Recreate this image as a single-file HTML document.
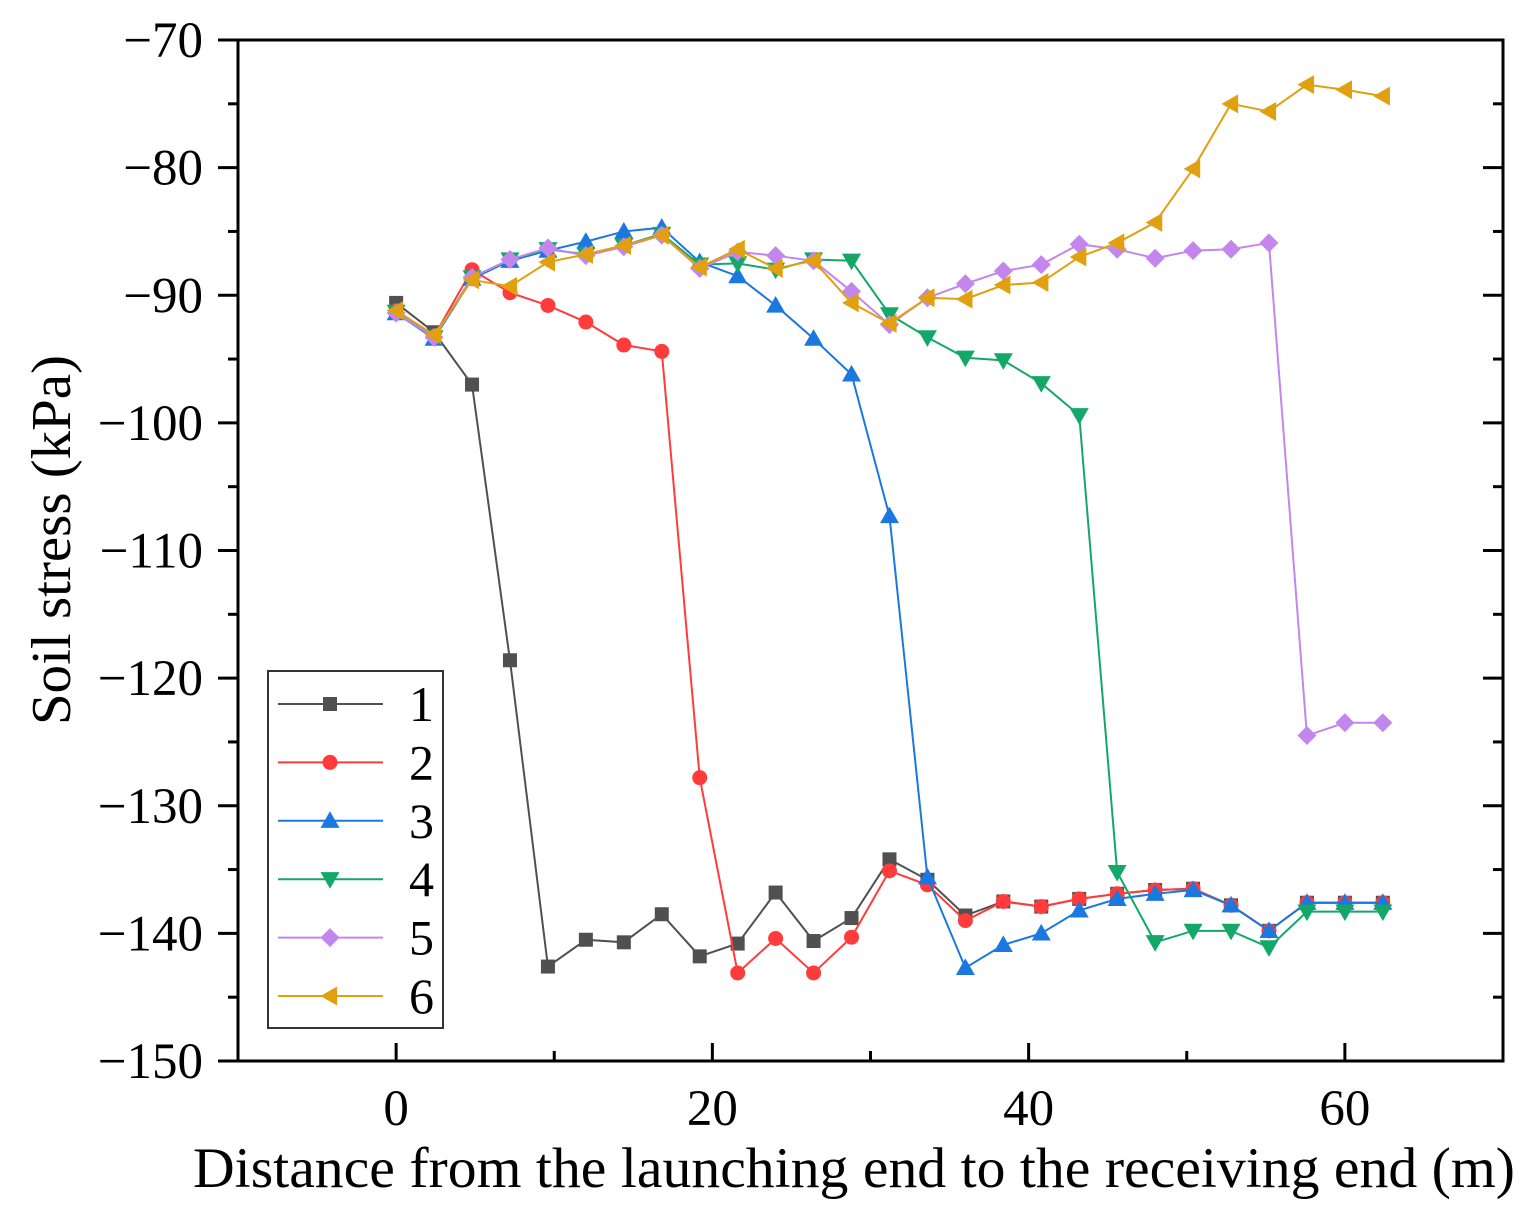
<!DOCTYPE html>
<html><head><meta charset="utf-8"><style>
html,body{margin:0;padding:0;background:#fff;}
svg{display:block;font-family:"Liberation Serif",serif;}
</style></head><body>
<svg id="chart" width="1533" height="1222" viewBox="0 0 1533 1222"></svg>
<script>
const xValues=[0,2.4,4.8,7.2,9.6,12,14.4,16.8,19.2,21.6,24,26.4,28.8,31.2,33.6,36,38.4,40.8,43.2,45.6,48,50.4,52.8,55.2,57.6,60,62.4];
const s1=[-90.6,-92.9,-97,-118.6,-142.6,-140.5,-140.7,-138.5,-141.8,-140.8,-136.8,-140.6,-138.8,-134.2,-135.8,-138.6,-137.5,-137.9,-137.3,-136.9,-136.6,-136.5,-137.8,-139.8,-137.6,-137.6,-137.6];
const s2=[-91.2,-93.2,-88,-89.8,-90.8,-92.1,-93.9,-94.4,-127.8,-143.1,-140.4,-143.1,-140.3,-135.1,-136.2,-139,-137.5,-137.9,-137.3,-136.9,-136.6,-136.5,-137.8,-139.8,-137.6,-137.6,-137.6];
const s3=[-91.4,-93.4,-88.7,-87.3,-86.5,-85.8,-85,-84.7,-87.4,-88.5,-90.8,-93.4,-96.2,-107.3,-135.6,-142.7,-140.9,-140,-138.2,-137.3,-136.9,-136.6,-137.8,-139.8,-137.6,-137.6,-137.6];
const s4=[-91.3,-93.3,-88.6,-87.2,-86.4,-86.8,-86.1,-85.2,-87.6,-87.5,-88,-87.2,-87.3,-91.5,-93.3,-94.9,-95.1,-96.9,-99.4,-135.2,-140.7,-139.8,-139.8,-141.1,-138.3,-138.3,-138.3];
const s5=[-91.4,-93.3,-88.6,-87.2,-86.3,-86.9,-86.2,-85.3,-87.9,-86.6,-86.9,-87.3,-89.7,-92.3,-90.2,-89.1,-88.1,-87.6,-86,-86.4,-87.1,-86.5,-86.4,-85.9,-124.5,-123.5,-123.5];
const s6=[-91.2,-93.1,-88.8,-89.3,-87.4,-86.8,-86.1,-85.3,-87.8,-86.4,-87.9,-87.3,-90.6,-92.2,-90.2,-90.3,-89.2,-89,-87,-85.9,-84.3,-80.1,-75,-75.6,-73.5,-73.9,-74.4];
const seriesNames=["1","2","3","4","5","6"];
const xTicks=[0,20,40,60];
const yTicks=[-70,-80,-90,-100,-110,-120,-130,-140,-150];

const NS="http://www.w3.org/2000/svg";
const svg=document.getElementById('chart');
const L=238,R=1503,T=40,B=1061;
const xs=v=>L+(v+10)/80*(R-L);
const ys=v=>T+(-70-v)/80*(B-T);
function mk(tag,attrs,parent){const e=document.createElementNS(NS,tag);for(const k in attrs)e.setAttribute(k,attrs[k]);(parent||svg).appendChild(e);return e;}

const axes=mk('g',{});


const frame=mk('rect',{x:L,y:T,width:R-L,height:B-T,fill:'none',stroke:'#000','stroke-width':3},axes);


for(let v=-150;v<=-70;v+=5){
  const major=v%10===0;const len=major?20:10;
  mk('line',{x1:L,x2:L-len,y1:ys(v),y2:ys(v),stroke:'#000','stroke-width':3},axes);
  mk('line',{x1:R,x2:R-len,y1:ys(v),y2:ys(v),stroke:'#000','stroke-width':3},axes);
}
yTicks.forEach(v=>{
  const t=mk('text',{x:203,y:ys(v)+17,'text-anchor':'end','font-size':51},axes);
  t.textContent='\u2212'+Math.abs(v);
  
  
});
for(let v=-10;v<=70;v+=10){
  const major=v%20===0;const len=major?18:10;
  mk('line',{x1:xs(v),x2:xs(v),y1:B,y2:B-len,stroke:'#000','stroke-width':3},axes);
}
xTicks.forEach(v=>{
  const t=mk('text',{x:xs(v),y:1125,'text-anchor':'middle','font-size':51},axes);
  t.textContent=v;
  
  
});
const xt=mk('text',{x:854,y:1187,'text-anchor':'middle','font-size':57,textLength:1322,lengthAdjust:'spacingAndGlyphs'});
xt.textContent='Distance from the launching end to the receiving end (m)';


const yt=mk('text',{x:0,y:0,'text-anchor':'middle','font-size':56,textLength:370,lengthAdjust:'spacingAndGlyphs',transform:'translate(70,540) rotate(-90)'});
yt.textContent='Soil stress (kPa)';



const colors=['#505050','#ff3b3b','#1a78e0','#14a868','#c386ec','#e0a010'];
const markers=['square','circle','up','down','diamond','left'];
function marker(type,cx,cy,color,g){
  const s=7;let e;
  if(type==='square')e=mk('rect',{x:cx-s,y:cy-s,width:2*s,height:2*s,fill:color},g);
  else if(type==='circle')e=mk('circle',{cx,cy,r:s+0.5,fill:color},g);
  else{
    let p;const a=9.5;
    if(type==='up')p=[[cx,cy-a],[cx+a,cy+a*0.75],[cx-a,cy+a*0.75]];
    if(type==='down')p=[[cx,cy+a],[cx+a,cy-a*0.75],[cx-a,cy-a*0.75]];
    if(type==='diamond')p=[[cx,cy-a],[cx+a,cy],[cx,cy+a],[cx-a,cy]];
    if(type==='left')p=[[cx-a,cy],[cx+a*0.75,cy-a],[cx+a*0.75,cy+a]];
    e=mk('polygon',{points:p.map(q=>q.join(',')).join(' '),fill:color},g);
  }
  return e;
}
const all=[s1,s2,s3,s4,s5,s6];
all.forEach((s,i)=>{
  const g=mk('g',{});
  
  
  mk('polyline',{points:s.map((v,j)=>xs(xValues[j])+','+ys(v)).join(' '),fill:'none',stroke:colors[i],'stroke-width':2},g);
  s.forEach((v,j)=>{
    const m=marker(markers[i],xs(xValues[j]),ys(v),colors[i],g);
    
    
  });
});
const lg=mk('g',{});


mk('rect',{x:268,y:671,width:175,height:357,fill:'#fff',stroke:'#333','stroke-width':2},lg);
seriesNames.forEach((n,i)=>{
  const y=704+i*58.4;
  const eg=mk('g',{},lg);
  
  
  mk('line',{x1:278,x2:383,y1:y,y2:y,stroke:colors[i],'stroke-width':2},eg);
  marker(markers[i],330,y,colors[i],eg);
  const t=mk('text',{x:409,y:y+17,'font-size':50},eg);
  t.textContent=n;
});
</script>
</body></html>
